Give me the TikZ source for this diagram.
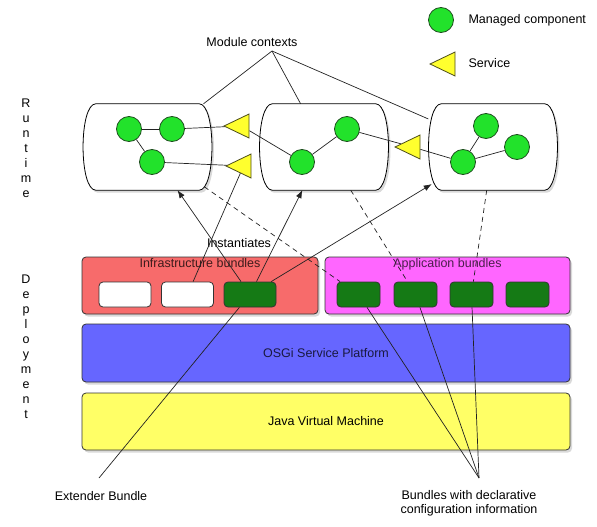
\documentclass[tikz,border=0pt]{standalone}
\usepackage{fontspec}
\setmainfont{Liberation Sans}
\usepackage{tikz}
\usetikzlibrary{arrows.meta,positioning,shapes.geometric,shadows}
\definecolor{ccomp}{HTML}{22E22B}
\definecolor{ccompD}{HTML}{1E4D1E}
\definecolor{csvc}{HTML}{FFFF2E}
\definecolor{csvcD}{HTML}{4D4D1A}
\definecolor{cbund}{HTML}{157A15}
\definecolor{cinfra}{HTML}{F76B6B}
\definecolor{capp}{HTML}{FF66FF}
\definecolor{cosgi}{HTML}{6666FF}
\definecolor{cjvm}{HTML}{FFFF66}
\definecolor{cline}{HTML}{222222}
\tikzset{
  shad/.style={drop shadow={shadow xshift=2pt, shadow yshift=-2.5pt, opacity=0.3}},
  comp/.style={circle, fill=ccomp, draw=ccompD, line width=0.8pt,
               minimum size=25pt, inner sep=0pt},
  svc/.style={isosceles triangle, isosceles triangle stretches,
              shape border rotate=180, fill=csvc, draw=csvcD, line width=0.8pt,
              minimum width=24pt, minimum height=25pt, inner sep=0pt, anchor=apex},
  ctxbox/.style={minimum width=129pt, minimum height=86pt, inner sep=0pt},
  ctxedge/.style={draw=black, fill=white, line width=0.8pt, shad},
  layer/.style={draw=black!80, rounded corners=4pt, line width=0.8pt,
                minimum width=488pt, minimum height=57pt, inner sep=0pt, shad},
  bundle/.style={draw=black!80, rounded corners=4pt, line width=0.8pt,
                 minimum width=52pt, minimum height=25pt, inner sep=0pt, fill=cbund},
  wire/.style={draw=cline, line width=0.7pt},
  flow/.style={-{Latex[length=8pt,width=6pt]}, line width=0.7pt, draw=cline},
  flowd/.style={line width=0.7pt, draw=cline, dash pattern=on 5pt off 4pt},
}
% outline of a module context: straight top and bottom, bulging sides
\newcommand{\ctxoutline}[1]{%
  \path[ctxedge] ([xshift=13pt]#1.north west) -- ([xshift=-13pt]#1.north east)
    .. controls ([xshift=4pt]#1.north east) and ([xshift=4pt]#1.south east) .. ([xshift=-13pt]#1.south east)
    -- ([xshift=13pt]#1.south west)
    .. controls ([xshift=-4pt]#1.south west) and ([xshift=-4pt]#1.north west) .. cycle;}

\begin{document}
\begin{tikzpicture}[x=1pt, y=-1pt, font=\fontsize{12.5}{15}\selectfont]
  \useasboundingbox (0,0) rectangle (597,527);
  % side titles
  \node[align=center] (rt) at (26,148) {R\\u\\n\\t\\i\\m\\e};
  \node[align=center] (dp) at (26,347) {D\\e\\p\\l\\o\\y\\m\\e\\n\\t};

  % deployment layers
  \node[layer, fill=cjvm] (jvm) at (326,421.5) {Java Virtual Machine};
  \node[layer, fill=cosgi, minimum height=58pt, text=black!75!cosgi] (osgi) at (326,353) {OSGi Service Platform};
  \node[layer, fill=cinfra, minimum width=236pt,
        label={[anchor=north, inner sep=1.5pt, text=black!75!cinfra]north:Infrastructure bundles}] (infra) at (200,285.5) {};
  \node[layer, fill=capp, minimum width=245pt,
        label={[anchor=north, inner sep=1.5pt, text=black!70!capp]north:Application bundles}] (app) at (447.5,285.5) {};

  \node[bundle, fill=white] (b1) at (125,294.5) {};
  \node[bundle, fill=white] (b2) at (187.5,294.5) {};
  \node[bundle] (b3) at (250,294.5) {};
  \node[bundle, minimum width=43pt] (a1) at (358.5,294.5) {};
  \node[bundle, minimum width=43pt] (a2) at (415.5,294.5) {};
  \node[bundle, minimum width=43pt] (a3) at (471.5,294.5) {};
  \node[bundle, minimum width=43pt] (a4) at (527.5,294.5) {};

  % runtime: module contexts
  \node[ctxbox] (ctxA) at (147.5,147) {};
  \node[ctxbox] (ctxB) at (324,147) {};
  \node[ctxbox] (ctxC) at (493,147) {};
  \ctxoutline{ctxA}
  \ctxoutline{ctxB}
  \ctxoutline{ctxC}

  \node[comp] (cA1) at (129,129) {};
  \node[comp] (cA2) at (172,129) {};
  \node[comp] (cA3) at (152,162) {};
  \node[comp] (cB1) at (302,162) {};
  \node[comp] (cB2) at (347,129) {};
  \node[comp] (cC1) at (486,126) {};
  \node[comp] (cC2) at (517,147) {};
  \node[comp] (cC3) at (463,162) {};
  \node[svc] (s1) at (223,126) {};
  \node[svc] (s2) at (225,166) {};
  \node[svc] (s3) at (394,147) {};

  \draw[wire] (cA1) -- (cA2);
  \draw[wire] (cA1) -- (cA3);
  \draw[wire] (cA2) -- (s1);
  \draw[wire] (cA3) -- (s2);
  \draw[wire] (s1) -- (cB1);
  \draw[wire] (cB1) -- (cB2);
  \draw[wire] (cB2) -- (s3);
  \draw[wire] (s3) -- (cC3);
  \draw[wire] (cC3) -- (cC1);
  \draw[wire] (cC3) -- (cC2);

  % legend
  \node[comp] (lgc) at (441,20) {};
  \node[anchor=west] (lgct) at (465,20) {Managed component};
  \node[svc] (lgs) at (429,64) {};
  \node[anchor=west] (lgst) at (465,63) {Service};

  % module contexts callout
  \node (mc) at (252,42) {Module contexts};
  \coordinate (mcpt) at (272,51);
  \draw[wire] (mcpt) -- (ctxA);
  \draw[wire] (mcpt) -- (ctxB);
  \draw[wire] (mcpt) -- (ctxC);

  % instantiation
  \node (inst) at (239,243) {Instantiates};
  \draw[flow] (b3) -- (ctxA);
  \draw[flow] (b3) -- (ctxB);
  \draw[flow, shorten >=-4pt] (b3) -- (ctxC);
  \draw[wire] (b2) -- (s2);
  \draw[flowd, shorten <=-6pt] (ctxA) -- (a1);
  \draw[flowd] (ctxB) -- (a2);
  \draw[flowd] (ctxC) -- (a3);

  % bottom callouts
  \node (ext) at (101,496) {Extender Bundle};
  \coordinate (extpt) at (99,478);
  \draw[wire] (extpt) -- (b3);
  \node[align=center, font=\fontsize{12.5}{14}\selectfont] (decl) at (469,503) {Bundles with declarative\\configuration information};
  \coordinate (declpt) at (479,478);
  \draw[wire] (declpt) -- (a1);
  \draw[wire] (declpt) -- (a2);
  \draw[wire] (declpt) -- (a3);
\end{tikzpicture}
\end{document}
